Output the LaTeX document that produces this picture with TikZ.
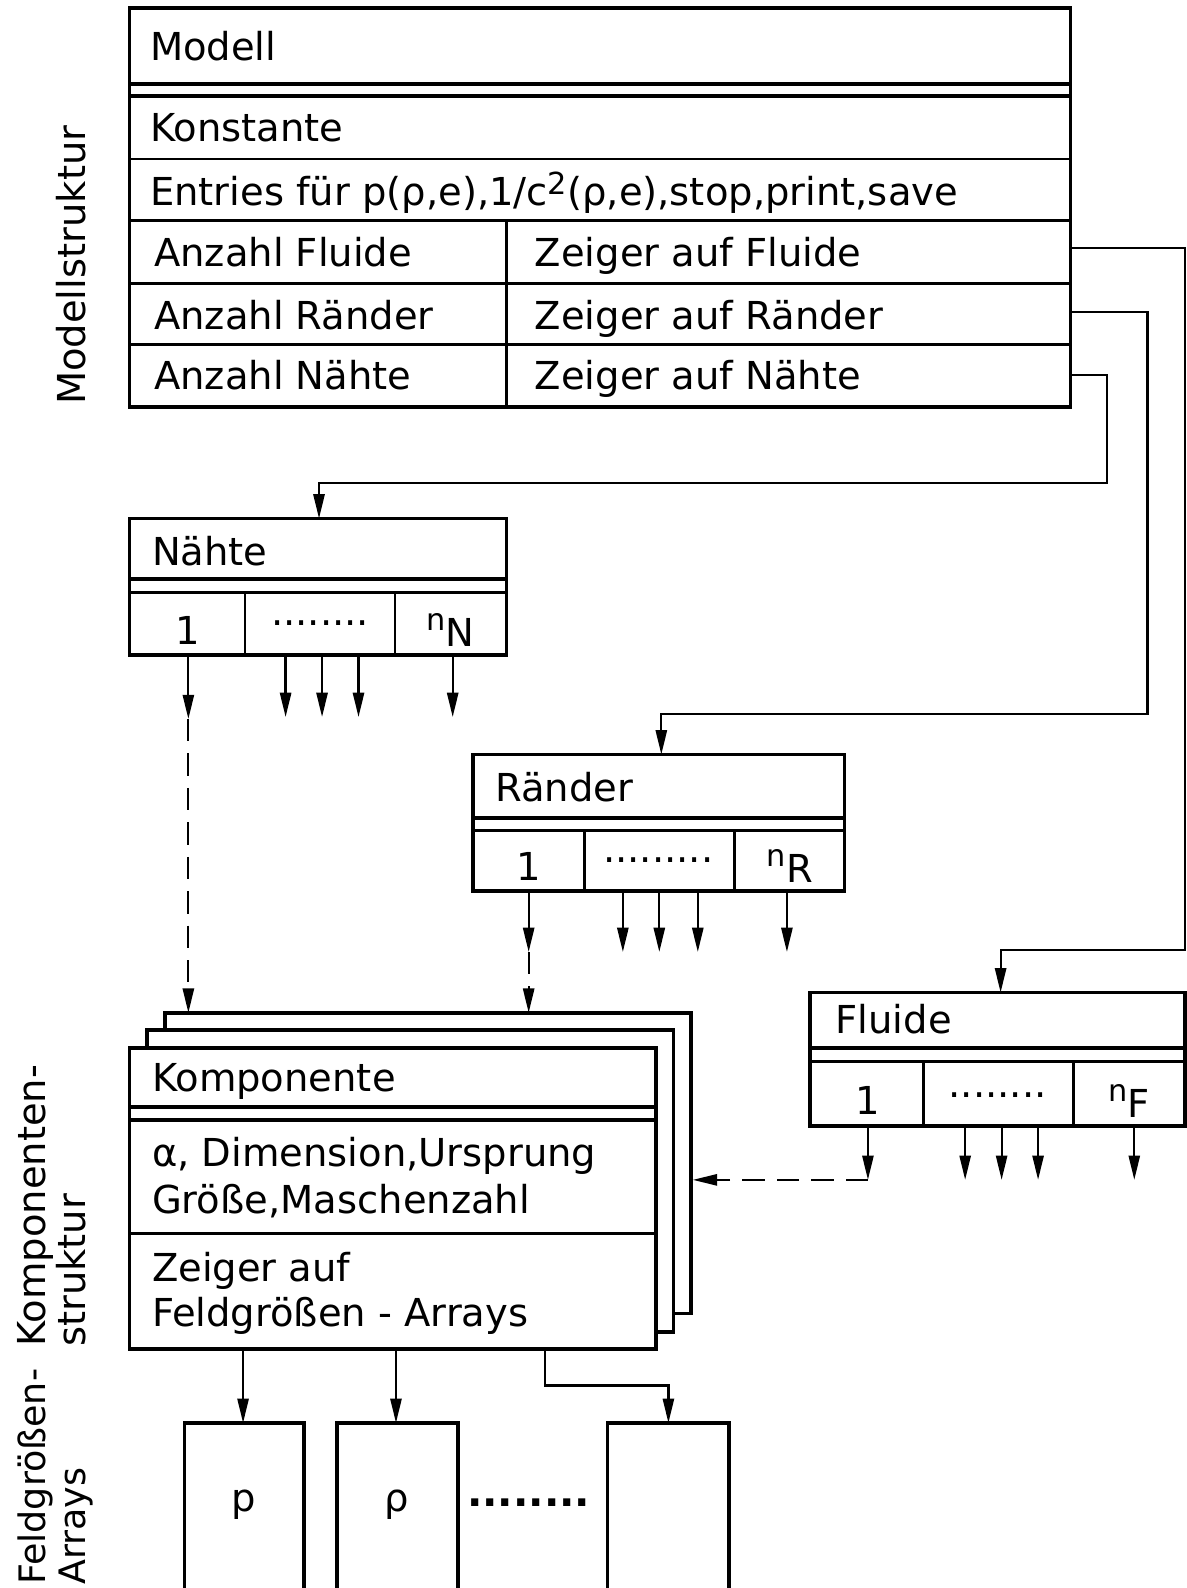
\documentclass[tikz,border=0pt]{standalone}
\usepackage{fontspec}
\setmainfont{DejaVu Sans}
\usetikzlibrary{arrows.meta}
\newcommand\nidx[1]{\raisebox{15pt}{\fontsize{30}{30}\selectfont n}#1}
\newcommand\sqtwo{\raisebox{11pt}{\fontsize{30}{30}\selectfont 2}}
\begin{document}
\begin{tikzpicture}[x=1pt,y=-1pt,
  frame/.style={line width=3.6pt,line join=miter},
  sep/.style={line width=2.6pt},
  conn/.style={line width=2.2pt},
  tip/.style={-{Triangle[length=24pt,width=11pt]}},
  lbl/.style={anchor=base west,inner sep=0pt,font=\fontsize{38}{40}\selectfont},
  ctr/.style={anchor=base,inner sep=0pt,font=\fontsize{38}{40}\selectfont},
  side/.style={anchor=base west,inner sep=0pt,rotate=90,font=\fontsize{38}{40}\selectfont},
  dsh/.style={conn,dash pattern=on 22pt off 12pt},
]
\useasboundingbox (0,0) rectangle (1172,1568);

% ---------- Modell structure ----------
\draw[frame] (128,8) rectangle (1057,402);
\draw[frame] (128,83) -- (1057,83);
\draw[frame] (128,95) -- (1057,95);
\draw[sep] (128,157) -- (1057,157);
\draw[sep] (128,218) -- (1057,218);
\draw[sep] (128,280) -- (1057,280);
\draw[sep] (128,340) -- (1057,340);
\draw[sep] (500,218) -- (500,402);
\node[lbl] (modell) at (148,60) {Modell};
\node[lbl] (konst) at (148,140) {Konstante};
\node[lbl] (entries) at (148,203) {Entries für p(ρ,e),1/c\sqtwo(ρ,e),stop,print,save};
\node[lbl] (anzF) at (152,263) {Anzahl Fluide};
\node[lbl] (anzR) at (152,325) {Anzahl Ränder};
\node[lbl] (anzN) at (152,385) {Anzahl Nähte};
\node[lbl] (zF) at (528,263) {Zeiger auf Fluide};
\node[lbl] (zR) at (528,325) {Zeiger auf Ränder};
\node[lbl] (zN) at (528,385) {Zeiger auf Nähte};
\node[side] (lmod) at (84,400) {Modellstruktur};

\coordinate (pF) at (1057,245);
\coordinate (pR) at (1057,308);
\coordinate (pN) at (1057,370);

% ---------- Naehte ----------
\draw[frame] (128,512) rectangle (500,647);
\draw[frame] (128,572) -- (500,572);
\draw[frame] (128,585) -- (500,585);
\draw[sep] (242,585) -- (242,647);
\draw[sep] (390,585) -- (390,647);
\node[lbl] (naehte) at (150,558) {Nähte};
\node[ctr] (n1) at (185,636) {1};
\node[ctr] (ndots) at (316,618) {........};
\node[ctr] (nn) at (445,638) {\nidx{N}};
\coordinate (nTop) at (315,512);

% ---------- Raender ----------
\draw[frame] (467,745) rectangle (834,880);
\draw[frame] (467,808) -- (834,808);
\draw[frame] (467,820) -- (834,820);
\draw[sep] (577,820) -- (577,880);
\draw[sep] (725,820) -- (725,880);
\node[lbl] (raender) at (489,791) {Ränder};
\node[ctr] (r1) at (522,869) {1};
\node[ctr] (rdots) at (650,852) {.........};
\node[ctr] (rn) at (780,871) {\nidx{R}};
\coordinate (rTop) at (653,745);

% ---------- Fluide ----------
\draw[frame] (800,980) rectangle (1170,1112);
\draw[frame] (800,1035) -- (1170,1035);
\draw[frame] (800,1048) -- (1170,1048);
\draw[sep] (912,1048) -- (912,1112);
\draw[sep] (1060,1048) -- (1060,1112);
\node[lbl] (fluide) at (825,1020) {Fluide};
\node[ctr] (f1) at (857,1100) {1};
\node[ctr] (fdots) at (985,1084) {........};
\node[ctr] (fn) at (1115,1103) {\nidx{F}};
\coordinate (fTop) at (988,980);

% ---------- pointer connectors ----------
\draw[conn,tip] (pF) -- (1170,245) -- (1170,938) -| (fTop);
\draw[conn,tip] (pR) -- (1133,308) -- (1133,705) -| (rTop);
\draw[conn,tip] (pN) -- (1093,370) -- (1093,477) -| (nTop);

% ---------- Komponente stack ----------
\draw[frame,fill=white] (163,1000) rectangle (682,1297);
\draw[frame,fill=white] (145,1017) rectangle (665,1315);
\draw[frame,fill=white] (128,1035) rectangle (648,1332);
\draw[frame] (128,1093) -- (648,1093);
\draw[frame] (128,1106) -- (648,1106);
\draw[sep] (128,1218) -- (648,1218);
\node[lbl] (komp) at (150,1078) {Komponente};
\node[lbl] (kdim) at (150,1152) {α, Dimension,Ursprung};
\node[lbl] (kgr) at (150,1198) {Größe,Maschenzahl};
\node[lbl] (kz) at (150,1265) {Zeiger auf};
\node[lbl] (kfeld) at (150,1310) {Feldgrößen - Arrays};
\node[side] (lk1) at (45,1330) {Komponenten-};
\node[side] (lk2) at (84,1330) {struktur};
\coordinate (kTopN) at (186,1000);
\coordinate (kTopR) at (522,1000);
\coordinate (kRight) at (684,1165);

% ---------- element arrows ----------
\coordinate (nA) at (186,710);
\draw[conn,tip] (186,647) -- (nA);
\draw[dsh,tip] (nA) -- (kTopN);
\foreach \x in {282,318,354,447} \draw[conn,tip] (\x,647) -- (\x,708);

\coordinate (rA) at (522,940);
\draw[conn,tip] (522,880) -- (rA);
\draw[dsh,tip] (rA) -- (kTopR);
\foreach \x in {615,651,689,777} \draw[conn,tip] (\x,880) -- (\x,940);

\coordinate (fA) at (857,1165);
\draw[conn,tip] (857,1112) -- (fA);
\draw[dsh,tip] (fA) -- (kRight);
\foreach \x in {953,989,1025,1120} \draw[conn,tip] (\x,1112) -- (\x,1165);

% ---------- Feldgroessen arrays ----------
\draw[frame] (182,1405) rectangle (300,1600);
\draw[frame] (333,1405) rectangle (452,1600);
\draw[frame] (600,1405) rectangle (720,1600);
\coordinate (a1) at (240,1405);
\coordinate (a2) at (391,1405);
\coordinate (a3) at (660,1405);
\node[ctr] (ap) at (241,1492) {p};
\node[ctr] (arho) at (392,1492) {ρ};
\node[ctr,font=\fontsize{40}{40}\selectfont\bfseries] (adots) at (522,1488) {........};
\draw[conn,tip] (240,1332) -- (a1);
\draw[conn,tip] (391,1332) -- (a2);
\draw[conn,tip] (538,1332) -- (538,1368) -| (a3);
\node[side,font=\fontsize{36}{38}\selectfont] (lf1) at (45,1565) {Feldgrößen-};
\node[side,font=\fontsize{36}{38}\selectfont] (lf2) at (84,1565) {Arrays};
\end{tikzpicture}
\end{document}
